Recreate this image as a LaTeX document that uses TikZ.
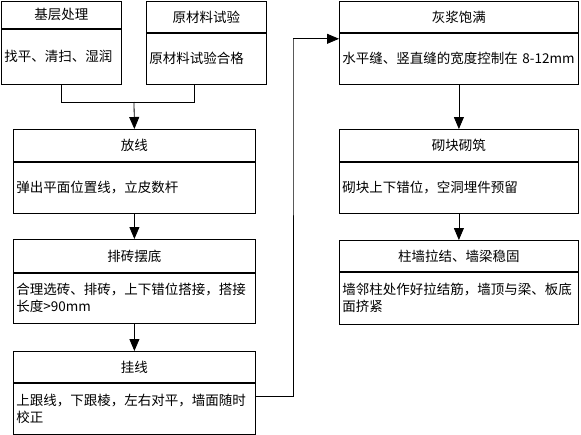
\documentclass[tikz,border=0pt]{standalone}
\usepackage{fontspec}
\newfontfamily\cjk{Noto Sans CJK SC}
\usetikzlibrary{arrows.meta,positioning}

\tikzset{
	head/.style={draw, fill=white, line width=0.8pt, anchor=north west, inner sep=0pt,
		font=\cjk\fontsize{13.5}{16}\selectfont},
	body/.style={draw, fill=white, line width=0.8pt, anchor=north, inner xsep=3pt, inner ysep=0pt,
		align=left, font=\cjk\fontsize{13.5}{17}\selectfont},
	arr/.style={line width=0.8pt, -{Triangle[length=12pt,width=10pt]}},
	link/.style={line width=0.8pt}
}

\begin{document}
\begin{tikzpicture}[x=1pt,y=-1pt]
				\useasboundingbox (0,0) rectangle (581,434);
				
				% left column
				\node [head, minimum width=120pt, minimum height=27pt] (jiceng) at (1,1) {基层处理};
				\node [body, text width=114pt, minimum height=55pt] (jicengb) at (jiceng.south) {找平、清扫、湿润};
				
				\node [head, minimum width=120pt, minimum height=31pt] (yuancl) at (146,1) {原材料试验};
				\node [body, text width=114pt, minimum height=51pt] (yuanclb) at (yuancl.south) {原材料试验合格};
				
				\node [head, minimum width=242pt, minimum height=32pt] (fangxian) at (13,129) {放线};
				\node [body, text width=236pt, minimum height=51pt] (fangxianb) at (fangxian.south) {弹出平面位置线，立皮数杆};
				
				\node [head, minimum width=242pt, minimum height=33pt] (paizhuan) at (13,239) {排砖摆底};
				\node [body, text width=236pt, minimum height=50pt] (paizhuanb) at (paizhuan.south) {合理选砖、排砖，上下错位搭接，搭接\\长度>90mm};
				
				\node [head, minimum width=242pt, minimum height=31pt] (guaxian) at (13,351) {挂线};
				\node [body, text width=236pt, minimum height=51pt] (guaxianb) at (guaxian.south) {上跟线，下跟棱，左右对平，墙面随时\\校正};
				
				% right column
				\node [head, minimum width=239pt, minimum height=31pt] (huijiang) at (339,1) {灰浆饱满};
				\node [body, text width=233pt, minimum height=51pt] (huijiangb) at (huijiang.south) {水平缝、竖直缝的宽度控制在 8-12mm};
				
				\node [head, minimum width=239pt, minimum height=32pt] (qikuai) at (339,129) {砌块砌筑};
				\node [body, text width=233pt, minimum height=51pt] (qikuaib) at (qikuai.south) {砌块上下错位，空洞埋件预留};
				
				\node [head, minimum width=239pt, minimum height=31pt] (zhuqiang) at (339,240) {柱墙拉结、墙梁稳固};
				\node [body, text width=233pt, minimum height=52pt] (zhuqiangb) at (zhuqiang.south) {墙邻柱处作好拉结筋，墙顶与梁、板底\\面挤紧};
				
				% connectors
				\coordinate (join) at (134,102);
				\coordinate (turn) at (293,38);
				\draw [link] (jicengb.south) |- (join);
				\draw [link] ([xshift=-12pt]yuanclb.south) |- (join);
				\draw [arr] (join) -- (fangxian.north);
				\draw [arr] (fangxianb.south) -- (paizhuan.north);
				\draw [arr] (paizhuanb.south) -- (guaxian.north);
				\draw [arr] ([yshift=-14pt]guaxianb.north east) -| (turn) |- ([yshift=-6pt]huijiangb.north west);
				\draw [arr] (huijiangb.south) -- (qikuai.north);
				\draw [arr] (qikuaib.south) -- (zhuqiang.north);
\end{tikzpicture}
\end{document}
